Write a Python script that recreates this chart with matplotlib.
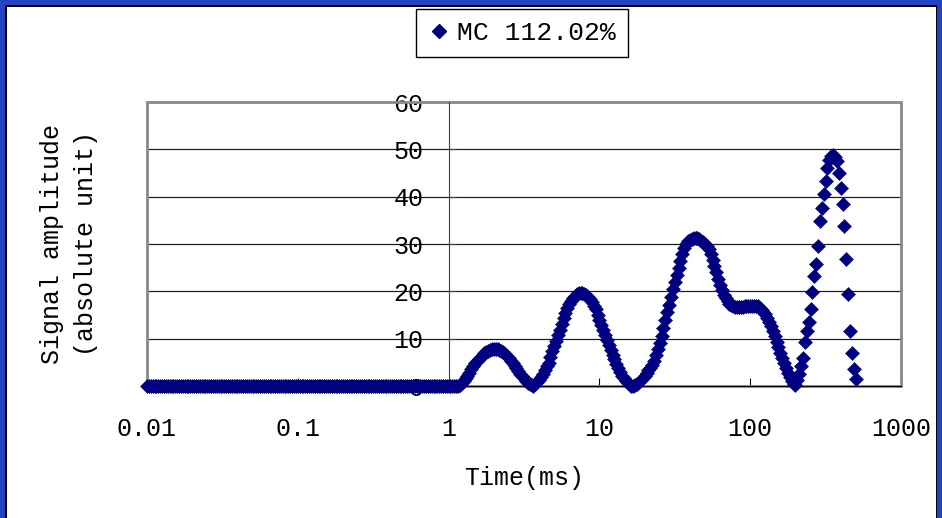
import numpy as np
import matplotlib.pyplot as plt
from matplotlib.lines import Line2D
from matplotlib.patches import Rectangle

plt.rcParams['font.family'] = ['Liberation Mono', 'DejaVu Sans Mono']

# relaxation time bins: 80 bins per decade, first bin at 0.01 ms
FIRST_EXP = -2
BINS_PER_DECADE = 80

series_name = "MC 112.02%"

# 0.01 ms .. ~1 ms : nothing
amp_flat = [
    0, 0, 0, 0, 0, 0, 0, 0, 0, 0, 0, 0, 0, 0, 0, 0, 0, 0, 0, 0,
    0, 0, 0, 0, 0, 0, 0, 0, 0, 0, 0, 0, 0, 0, 0, 0, 0, 0, 0, 0,
    0, 0, 0, 0, 0, 0, 0, 0, 0, 0, 0, 0, 0, 0, 0, 0, 0, 0, 0, 0,
    0, 0, 0, 0, 0, 0, 0, 0, 0, 0, 0, 0, 0, 0, 0, 0, 0, 0, 0, 0,
    0, 0, 0, 0, 0, 0, 0, 0, 0, 0, 0, 0, 0, 0, 0, 0, 0, 0, 0, 0,
    0, 0, 0, 0, 0, 0, 0, 0, 0, 0, 0, 0, 0, 0, 0, 0, 0, 0, 0, 0,
    0, 0, 0, 0, 0, 0, 0, 0, 0, 0, 0, 0, 0, 0, 0, 0, 0, 0, 0, 0,
    0, 0, 0, 0, 0, 0, 0, 0, 0, 0, 0, 0, 0, 0, 0, 0, 0, 0, 0, 0,
]

# 1 ms .. ~480 ms
amp_peaks = [
    0.0, 0.0, 0.0, 0.0, 0.0, 0.0, 0.3, 0.6, 1.0, 1.6,
    2.2, 2.8, 3.5, 4.2, 4.8, 5.3, 5.8, 6.2, 6.6, 6.9,
    7.2, 7.4, 7.6, 7.8, 7.9, 7.9, 7.9, 7.7, 7.5, 7.2,
    6.8, 6.4, 5.9, 5.3, 4.8, 4.3, 3.7, 3.1, 2.6, 2.1,
    1.6, 1.1, 0.7, 0.4, 0.2, 0.1, 0.4, 0.8, 1.3, 1.9,
    2.6, 3.4, 4.2, 4.9, 6.1, 7.3, 8.5, 9.6, 10.8, 11.9,
    13.1, 14.3, 15.5, 16.5, 17.3, 18.0, 18.6, 19.1, 19.4, 19.6,
    19.7, 19.6, 19.5, 19.2, 18.8, 18.3, 17.7, 17.0, 16.2, 15.1,
    14.0, 12.9, 11.9, 10.8, 9.8, 8.7, 7.6, 6.6, 5.6, 4.7,
    3.8, 3.0, 2.2, 1.6, 1.0, 0.6, 0.3, 0.1, 0.1, 0.2,
    0.5, 0.8, 1.2, 1.6, 2.1, 2.7, 3.3, 3.9, 4.5, 5.3,
    6.6, 7.8, 9.1, 10.5, 12.2, 13.9, 15.6, 17.2, 18.9, 20.5,
    22.0, 23.5, 24.9, 26.4, 27.8, 29.2, 30.1, 30.6, 30.9, 31.1,
    31.3, 31.3, 31.2, 31.0, 30.7, 30.4, 30.0, 29.6, 28.9, 27.8,
    26.6, 25.3, 24.0, 22.7, 21.4, 20.2, 19.3, 18.5, 17.9, 17.4,
    17.1, 16.8, 16.7, 16.6, 16.6, 16.6, 16.7, 16.8, 16.9, 17.0,
    17.0, 17.0, 17.0, 16.9, 16.8, 16.5, 16.1, 15.7, 15.2, 14.4,
    13.6, 12.7, 11.7, 10.6, 9.4, 8.2, 7.0, 5.9, 4.8, 3.7,
    2.7, 1.8, 1.0, 0.4, 0.3, 1.3, 2.6, 4.2, 6.0, 9.2,
    11.6, 13.6, 16.3, 19.8, 23.2, 25.7, 29.5, 34.8, 37.6, 40.5,
    43.3, 46.0, 47.8, 48.5, 48.8, 48.3, 47.6, 45.0, 41.9, 38.4,
    33.8, 26.8, 19.4, 11.6, 7.0, 3.5, 1.4,
]

amplitude = amp_flat + amp_peaks
n = len(amplitude)
time_ms = np.logspace(FIRST_EXP, FIRST_EXP + (n - 1) / BINS_PER_DECADE, n)

xticks = [0.01, 0.1, 1, 10, 100, 1000]
xtick_labels = ["0.01", "0.1", "1", "10", "100", "1000"]
yticks = [0, 10, 20, 30, 40, 50, 60]

navy = '#000080'
W, H = 942, 518

fig = plt.figure(figsize=(W / 100, H / 100), dpi=100)
fig.patch.set_facecolor('white')

# slide frame
blue = '#2143c4'
fig.add_artist(Rectangle((0, 1 - 5 / H), 1, 5 / H, transform=fig.transFigure, color=blue, lw=0))
fig.add_artist(Rectangle((0, 1 - 6.5 / H), 1, 1.5 / H, transform=fig.transFigure, color='black', lw=0))
fig.add_artist(Rectangle((0, 0), 5 / W, 1, transform=fig.transFigure, color=blue, lw=0))
fig.add_artist(Rectangle((5 / W, 0), 1.5 / W, 1 - 5 / H, transform=fig.transFigure, color='black', lw=0))
fig.add_artist(Rectangle((1 - 5 / W, 0), 5 / W, 1, transform=fig.transFigure, color=blue, lw=0))
fig.add_artist(Rectangle((1 - 6.5 / W, 0), 1.5 / W, 1 - 5 / H, transform=fig.transFigure, color='black', lw=0))

ax = fig.add_axes([147 / W, 1 - 386 / H, 754 / W, 284 / H])
ax.set_xscale('log')
ax.set_xlim(0.01, 1000)
ax.set_ylim(0, 60)

ax.plot(time_ms, amplitude, ls='none', marker='D', ms=6.8, color=navy,
        mec=navy, mew=0.4, clip_on=False, zorder=3)

ax.set_xticks(xticks)
ax.set_xticklabels(xtick_labels)
ax.xaxis.set_minor_locator(plt.NullLocator())
ax.set_yticks(yticks)

ax.yaxis.grid(True, color='#202020', lw=0.9)
ax.set_axisbelow(True)

ax.spines['top'].set_visible(False)
ax.spines['right'].set_visible(False)
ax.spines['left'].set_position(('data', 1))
ax.spines['left'].set_color('#404040')
ax.spines['bottom'].set_color('black')
ax.add_patch(Rectangle((0, 0), 1, 1, transform=ax.transAxes, fill=False,
                       ec='#8a8a8a', lw=2, zorder=1, clip_on=False))

ax.tick_params(axis='x', direction='in', length=6, color='black', pad=22, labelsize=18)
ax.tick_params(axis='y', direction='in', length=6, color='#404040', pad=18, labelsize=18)

fig.text(69 / W, 1 - 244 / H, "Signal amplitude\n(absolute unit)", rotation=90,
         ha='center', va='center', multialignment='center', fontsize=18, linespacing=1.5)
fig.text(524 / W, 1 - 478 / H, "Time(ms)", ha='center', va='center', fontsize=18)

handle = Line2D([], [], ls='none', marker='D', ms=7, color=navy)
leg = fig.legend([handle], [series_name], loc='upper center',
                 bbox_to_anchor=(522 / W, 1 - 9 / H), borderaxespad=0,
                 fontsize=19, frameon=True, fancybox=False, edgecolor='black',
                 framealpha=1, handlelength=0.8, handletextpad=0.3, borderpad=0.45)
leg.get_frame().set_linewidth(1)

fig.savefig('out.png', dpi=100)
